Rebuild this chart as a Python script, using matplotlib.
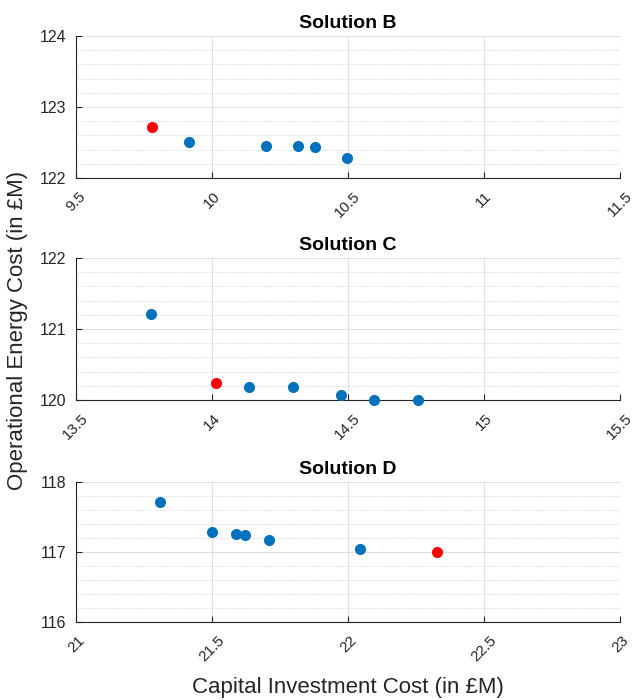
import matplotlib.pyplot as plt
from matplotlib.ticker import MultipleLocator

plt.rcParams['font.family'] = ['Liberation Sans', 'DejaVu Sans']

# Solution B
b_x = [9.916, 10.198, 10.315, 10.377, 10.497]
b_y = [122.505, 122.457, 122.448, 122.433, 122.276]
b_sel_x = [9.778]
b_sel_y = [122.714]

# Solution C
c_x = [13.777, 14.137, 14.298, 14.476, 14.597, 14.758]
c_y = [121.21, 120.19, 120.19, 120.075, 120.005, 119.995]
c_sel_x = [14.016]
c_sel_y = [120.236]

# Solution D
d_x = [21.308, 21.5, 21.59, 21.62, 21.71, 22.045]
d_y = [117.72, 117.287, 117.254, 117.25, 117.17, 117.05]
d_sel_x = [22.326]
d_sel_y = [117.0]

panels = [
    ("Solution B", b_x, b_y, b_sel_x, b_sel_y, (9.5, 11.5), (122, 124)),
    ("Solution C", c_x, c_y, c_sel_x, c_sel_y, (13.5, 15.5), (120, 122)),
    ("Solution D", d_x, d_y, d_sel_x, d_sel_y, (21, 23), (116, 118)),
]

dark = '#262626'
blue = '#0072BD'
red = '#FF0000'

fig = plt.figure(figsize=(6.34, 7.0), dpi=100)
left = 76 / 634
width = (620 - 76) / 634
boxes = [
    [left, 1 - 178 / 700, width, 142 / 700],
    [left, 1 - 400 / 700, width, 142 / 700],
    [left, 1 - 622 / 700, width, 140 / 700],
]

for (title, x, y, sx, sy, xl, yl), box in zip(panels, boxes):
    ax = fig.add_axes(box)
    ax.scatter(x, y, s=64, color=blue, zorder=3, clip_on=False, linewidths=0)
    ax.scatter(sx, sy, s=64, color=red, zorder=3, clip_on=False, linewidths=0)
    ax.set_xlim(*xl)
    ax.set_ylim(*yl)
    ax.xaxis.set_major_locator(MultipleLocator(0.5))
    ax.yaxis.set_major_locator(MultipleLocator(1))
    ax.yaxis.set_minor_locator(MultipleLocator(0.2))
    ax.grid(True, which='major', color='#E0E0E0', linewidth=0.8)
    ax.grid(True, which='minor', axis='y', color='#D0D0D0', linewidth=0.6,
            linestyle=(0, (1, 1.5)))
    ax.set_axisbelow(True)
    for s in ['top', 'right']:
        ax.spines[s].set_visible(False)
    for s in ['left', 'bottom']:
        ax.spines[s].set_color(dark)
        ax.spines[s].set_linewidth(0.8)
    ax.tick_params(axis='both', which='major', direction='in', length=4,
                   color=dark, labelcolor=dark, labelsize=11.5, width=0.8)
    ax.tick_params(axis='x', labelsize=11)
    ax.tick_params(axis='y', which='minor', length=0)
    ax.tick_params(axis='x', pad=8)
    ax.tick_params(axis='y', pad=7)
    ticks = [xl[0] + 0.5 * i for i in range(5)]
    ax.set_xticks(ticks)
    ax.set_xticklabels([('%g' % v) for v in ticks], rotation=45)
    ax.set_xlim(*xl)
    ax.set_title(title, fontsize=14, fontweight='bold', color='black', pad=6)

fig.text(18 / 634, 1 - 330 / 700, 'Operational Energy Cost (in £M)',
         rotation=90, ha='center', va='center', fontsize=16, color=dark)
fig.text(348 / 634, 1 - 688 / 700, 'Capital Investment Cost (in £M)',
         ha='center', va='center', fontsize=16, color=dark)

fig.savefig('out.png', dpi=100)
